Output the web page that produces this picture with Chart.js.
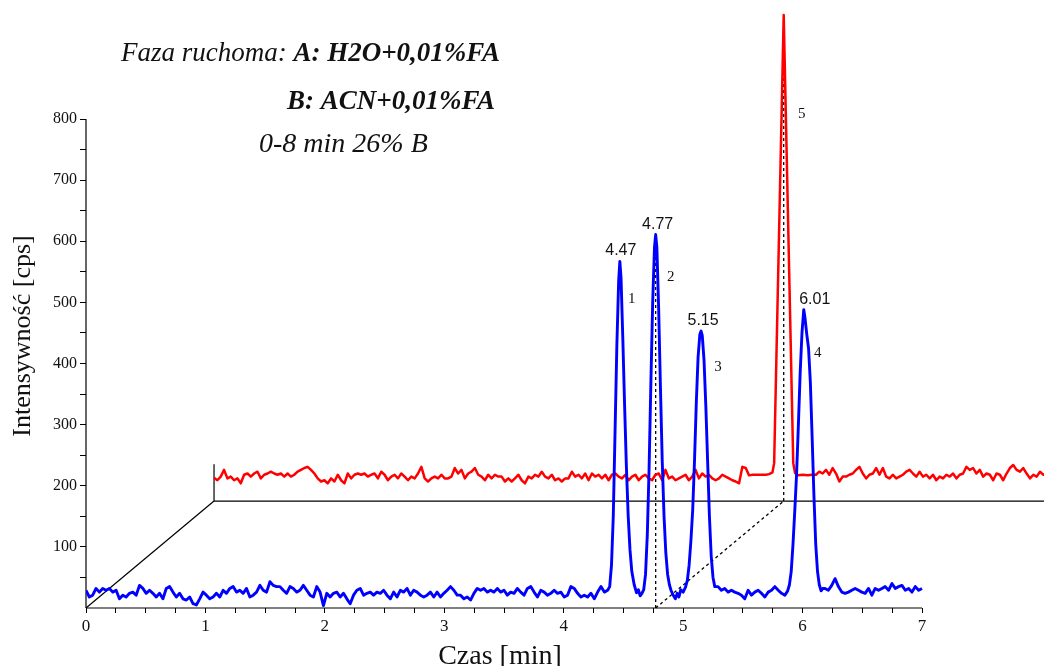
<!DOCTYPE html>
<html>
<head>
<meta charset="utf-8">
<title>Chromatogram</title>
<script src="https://cdn.jsdelivr.net/npm/chart.js@4.4.1/dist/chart.umd.min.js"></script>
<style>
  html, body { margin: 0; padding: 0; background: #fff; }
  #wrap { width: 1044px; height: 666px; }
</style>
</head>
<body>
<div id="wrap"><canvas id="chrom" width="1044" height="666"></canvas></div>
<script>
// detector sampling interval [min]
const SAMPLE_STEP = 0.028;

// blue trace baseline (null where a peak is drawn from its own points)
const blueBaseline = [
  29,18,21,32,26,32,29,32,26,29, 15,21,18,24,26,21,37,32,24,29,
  24,18,24,15,32,35,26,18,24,15, 13,18,7,5,15,26,21,15,18,24,
  18,29,24,32,35,26,29,24,32,18, 21,26,37,29,26,43,37,35,35,29,
  24,35,32,26,29,37,29,21,18,35, 26,4,24,18,24,26,18,24,15,7,
  21,29,32,21,24,26,
  21,26,24,29,21,15,26,18,29,26, 32,21,29,26,21,18,21,26,18,26,
  18,24,29,35,29,21,21,15,18,13, 24,32,29,32,26,29,26,32,26,29,
  21,26,24,32,26,21,32,35,26,18, 29,26,21,24,29,24,26,18,21,35,
  32,24,18,21,18,24,15,26,35,26, 29,
  ...Array(32).fill(null),
  35,29,32,26,29,26,24,21,15,29, 21,26,29,24,18,26,29,35,29,24, 21,
  ...Array(11).fill(null),
  32,29,37,48,35,26,24,26,29,32, 29,26,24,32,21,32,29,32,35,29,
  40,32,35,37,29,32,26,35,29,32
];

// red trace baseline
const redBaseline = [
  38,34,40,51,37,40,34,37,29,43, 45,40,45,48,37,43,45,48,45,43,
  45,40,45,40,43,48,51,54,56,51, 45,37,32,34,29,37,32,43,34,29,
  45,37,43,45,43,45,40,43,45,37, 48,43,34,40,43,37,45,40,34,40,
  37,45,56,37,32,37,40,37,43,37, 37,40,54,45,51,37,45,48,54,43,
  40,34,43,37,43,40,
  40,32,37,32,37,43,34,29,40,37, 43,40,48,40,37,43,34,37,32,37,
  37,48,40,43,37,45,34,45,40,43, 37,43,34,43,45,40,37,43,34,40,
  43,34,40,43,37,34,43,45,34,51, 37,40,34,37,40,43,34,40,51,37,
  45,40,43,37,34,37,43,40,37,34, 32,29,56,54,42,43,43,43,43,43,
  44,47,
  ...Array(12).fill(null),
  43,48,45,51,43,54,45,32,40,40, 43,45,51,56,45,37,43,45,54,43,
  54,40,37,43,37,40,43,48,51,45, 40,48,40,43,37,43,34,40,37,43,
  40,45,37,43,45,56,51,54,45,51, 40,45,43,34,45,43,34,45,54,59,
  51,48,54,45,37,43,40,48,43,45, 42
];

// labelled peaks: retention time [min] and apex intensity [cps]
const peakTimes = [4.47, 4.77, 5.15, 6.01];
const peakHeights = [567, 611, 453, 488];
const peakNumbers = ['1', '2', '3', '4'];

const redPeakTime = 4.77;
const redPeakHeight = 795;
const redPeakNumber = '5';

// peak flanks [time, cps], apex comes from the arrays above
const bluePeakFlanks = [
  [4.385,35],[4.40,70],[4.415,150],[4.43,290],[4.445,430],[4.46,535],
  [4.48,540],[4.495,440],[4.51,330],[4.525,230],[4.54,150],[4.555,95],
  [4.57,60],[4.59,38],[4.61,25],[4.625,30],[4.64,20],[4.655,24],
  [4.67,30],[4.685,55],[4.70,120],[4.715,230],[4.73,370],[4.745,500],[4.76,590],
  [4.78,590],[4.795,490],[4.81,360],[4.825,240],[4.84,150],[4.855,90],
  [4.87,55],[4.885,38],[4.90,28],[4.92,20],[4.935,15],[4.95,24],[4.965,18],
  [4.98,30],[5.00,26],[5.02,34],
  [5.035,45],[5.05,70],[5.065,110],[5.08,160],[5.095,240],[5.11,335],[5.125,410],[5.14,448],
  [5.16,446],[5.175,405],[5.19,330],[5.205,240],[5.22,150],[5.235,85],[5.25,50],[5.265,35],
  [5.875,28],[5.89,38],[5.905,60],[5.92,105],[5.935,160],[5.95,220],[5.965,300],
  [5.98,385],[5.995,450],
  [6.02,475],[6.035,448],[6.05,425],[6.065,370],[6.08,280],[6.095,185],[6.11,105],
  [6.125,60],[6.14,38],[6.155,28],[6.17,32]
];

const redPeakFlanks = [
  [4.69,62],[4.85,62],[4.865,46],[4.89,42],[4.93,43],[4.97,42],[5.01,43]
];

// layout of the plot box
const X_MAX = 8.0215;
const Y_MAX = 994.7;
// offset of the second (back) trace
const BACK_SHIFT_T = 1.072;
const BACK_SHIFT_I = 175;

function baselinePoints(values) {
  return values
    .map((v, i) => v === null ? null : { x: +(i * SAMPLE_STEP).toFixed(3), y: v })
    .filter(p => p !== null);
}

function buildTrace(baseline, flanks, apexT, apexV) {
  const pts = baselinePoints(baseline)
    .concat(flanks.map(([t, v]) => ({ x: t, y: v })))
    .concat(apexT.map((t, i) => ({ x: t, y: apexV[i] })));
  return pts.sort((a, b) => a.x - b.x);
}

const blueData = buildTrace(blueBaseline, bluePeakFlanks, peakTimes, peakHeights);
const redData = buildTrace(redBaseline, redPeakFlanks, [redPeakTime], [redPeakHeight]);

function seg(ctx, x1, y1, x2, y2) {
  ctx.beginPath();
  ctx.moveTo(x1, y1);
  ctx.lineTo(x2, y2);
  ctx.stroke();
}

const decorations = {
  id: 'decorations',
  beforeDatasetsDraw(chart) {
    const { ctx, chartArea } = chart;
    const { x, y, x2, y2 } = chart.scales;
    ctx.save();
    ctx.strokeStyle = '#000';
    ctx.lineWidth = 1.2;
    // main axes
    seg(ctx, x.getPixelForValue(0), y.getPixelForValue(0), x.getPixelForValue(7), y.getPixelForValue(0));
    seg(ctx, x.getPixelForValue(0), y.getPixelForValue(0), x.getPixelForValue(0), y.getPixelForValue(800));
    // back trace frame
    const bx = x2.getPixelForValue(0), by = y2.getPixelForValue(0);
    seg(ctx, x.getPixelForValue(0), y.getPixelForValue(0), bx, by);
    seg(ctx, bx, by, chartArea.right, by);
    seg(ctx, bx, by, bx, y2.getPixelForValue(60));

    // projection of the common retention time
    ctx.setLineDash([3, 3]);
    ctx.lineWidth = 1.3;
    const px = x.getPixelForValue(redPeakTime);
    const qx = x2.getPixelForValue(redPeakTime);
    seg(ctx, px, y.getPixelForValue(0), px, y.getPixelForValue(peakHeights[1]));
    seg(ctx, px, y.getPixelForValue(0), qx, by);
    seg(ctx, qx, by, qx, y2.getPixelForValue(redPeakHeight));
    ctx.restore();
  },
  afterDraw(chart) {
    const { ctx } = chart;
    const { x, y, x2, y2 } = chart.scales;
    ctx.save();
    ctx.fillStyle = '#111';

    // retention times over the peaks
    const timeShift = [1, 2, 2, 11];
    const numShift = [[12, 38], [15, 43], [17, 36], [14, 43]];
    peakTimes.forEach((t, i) => {
      const px = x.getPixelForValue(t), py = y.getPixelForValue(peakHeights[i]);
      ctx.font = '16px "Liberation Sans"';
      ctx.textAlign = 'center';
      ctx.textBaseline = 'alphabetic';
      ctx.fillText(t.toFixed(2), px + timeShift[i], py - 6);
      ctx.font = '15px "Liberation Serif"';
      ctx.textBaseline = 'middle';
      ctx.fillText(peakNumbers[i], px + numShift[i][0], py + numShift[i][1]);
    });
    ctx.font = '15px "Liberation Serif"';
    ctx.textAlign = 'center';
    ctx.textBaseline = 'middle';
    ctx.fillText(redPeakNumber, x2.getPixelForValue(redPeakTime) + 18, y2.getPixelForValue(redPeakHeight) + 99);

    // mobile phase description
    ctx.textAlign = 'left';
    ctx.textBaseline = 'alphabetic';
    ctx.font = 'italic 27px "Liberation Serif"';
    const lead = 'Faza ruchoma: ';
    ctx.fillText(lead, 121, 61);
    const w = ctx.measureText(lead).width;
    ctx.font = 'italic bold 27px "Liberation Serif"';
    ctx.fillText('A: H2O+0,01%FA', 121 + w, 61);
    ctx.fillText('B: ACN+0,01%FA', 287, 109);
    ctx.font = 'italic 28px "Liberation Serif"';
    ctx.fillText('0-8 min 26% B', 259, 152);

    // axis titles
    ctx.textAlign = 'center';
    ctx.font = '28px "Liberation Serif"';
    ctx.fillText('Czas [min]', 500, 664);
    ctx.font = '26px "Liberation Serif"';
    ctx.translate(30, 336);
    ctx.rotate(-Math.PI / 2);
    ctx.fillText('Intensywność [cps]', 0, 0);
    ctx.restore();
  }
};

new Chart(document.getElementById('chrom').getContext('2d'), {
  type: 'line',
  data: {
    datasets: [
      {
        label: 'A',
        data: blueData,
        borderColor: 'rgb(0,0,255)',
        borderWidth: 2.9,
        pointRadius: 0,
        tension: 0,
        borderJoinStyle: 'round',
        fill: false,
        xAxisID: 'x',
        yAxisID: 'y'
      },
      {
        label: 'B',
        data: redData,
        borderColor: 'rgb(255,0,0)',
        borderWidth: 2.5,
        pointRadius: 0,
        tension: 0,
        borderJoinStyle: 'round',
        fill: false,
        xAxisID: 'x2',
        yAxisID: 'y2'
      }
    ]
  },
  options: {
    responsive: false,
    animation: false,
    events: [],
    layout: { padding: 0 },
    plugins: {
      legend: { display: false },
      tooltip: { enabled: false }
    },
    scales: {
      x: {
        type: 'linear',
        position: 'bottom',
        min: 0,
        max: X_MAX,
        afterFit(scale) {
          scale.height = 58;
          scale.paddingLeft = 0;
          scale.paddingRight = 0;
        },
        border: { display: false },
        grid: {
          drawOnChartArea: false,
          tickLength: 5,
          lineWidth: 1,
          color: c => (c.tick && c.tick.value <= 7) ? '#000' : 'transparent'
        },
        ticks: {
          stepSize: 0.25,
          autoSkip: false,
          maxRotation: 0,
          padding: 3,
          color: '#111',
          font: { family: 'Liberation Serif', size: 17 },
          callback: v => (Number.isInteger(v) && v <= 7) ? String(v) : ''
        }
      },
      y: {
        type: 'linear',
        position: 'left',
        min: 0,
        max: Y_MAX,
        afterFit(scale) {
          scale.width = 86;
          scale.paddingTop = 0;
          scale.paddingBottom = 0;
        },
        border: { display: false },
        grid: {
          drawOnChartArea: false,
          tickLength: 6,
          lineWidth: 1,
          color: c => (c.tick && c.tick.value > 0 && c.tick.value <= 800) ? '#000' : 'transparent'
        },
        ticks: {
          stepSize: 50,
          autoSkip: false,
          padding: 3,
          color: '#111',
          font: { family: 'Liberation Serif', size: 16 },
          callback: v => (v % 100 === 0 && v >= 100 && v <= 800) ? String(v) : ''
        }
      },
      x2: {
        type: 'linear',
        axis: 'x',
        position: 'bottom',
        display: false,
        min: -BACK_SHIFT_T,
        max: X_MAX - BACK_SHIFT_T
      },
      y2: {
        type: 'linear',
        axis: 'y',
        position: 'left',
        display: false,
        min: -BACK_SHIFT_I,
        max: Y_MAX - BACK_SHIFT_I
      }
    }
  },
  plugins: [decorations]
});
</script>
</body>
</html>
